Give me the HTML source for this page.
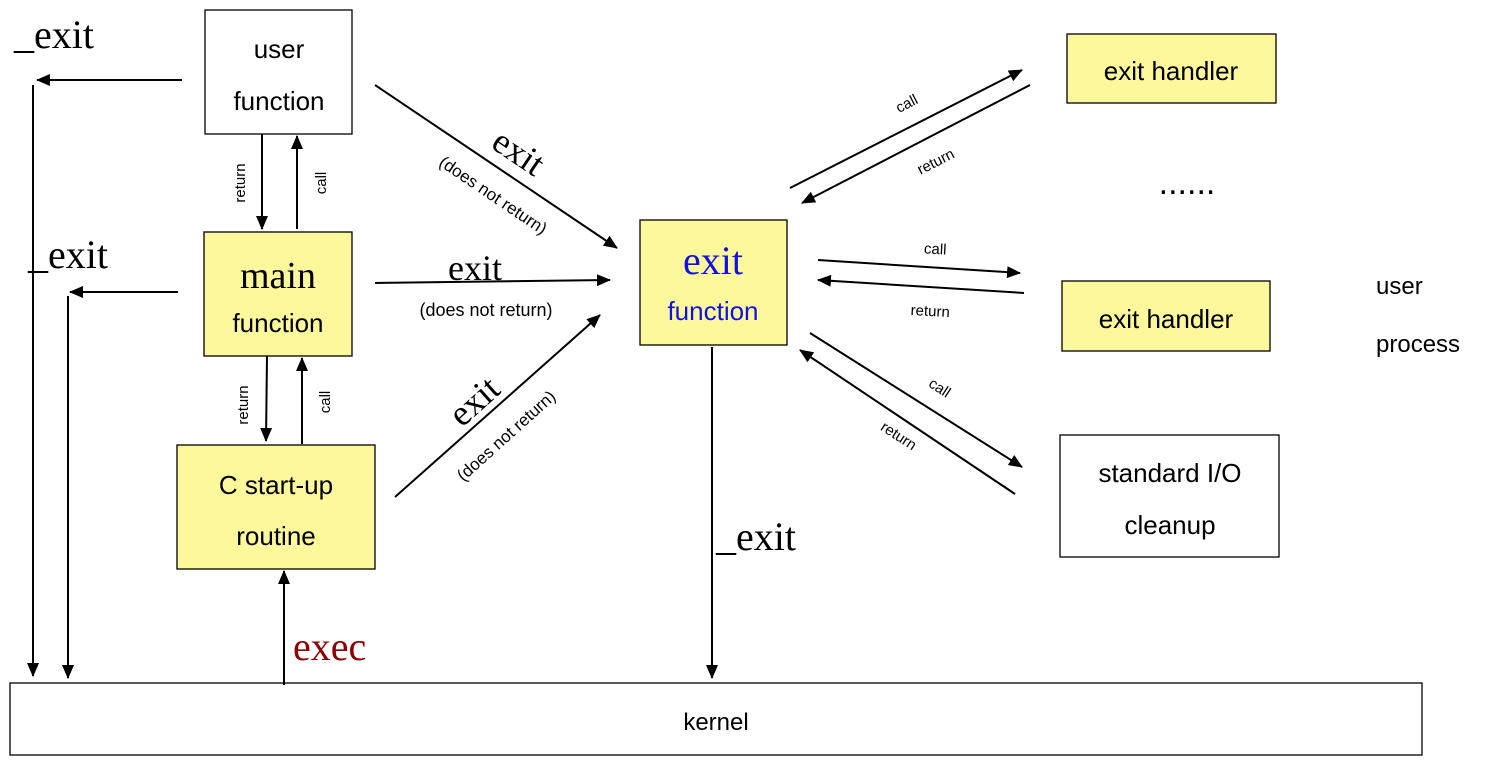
<!DOCTYPE html>
<html><head><meta charset="utf-8"><style>
html,body{margin:0;padding:0;background:#fff;}
svg{display:block;}
.h{font-family:"Liberation Sans","DejaVu Sans",sans-serif;fill:#000;}
.s{font-family:"Liberation Serif",serif;fill:#000;}
</style></head><body>
<svg width="1488" height="763" viewBox="0 0 1488 763" xmlns="http://www.w3.org/2000/svg">
<defs>
<marker id="a" markerWidth="10" markerHeight="10" refX="9" refY="5" orient="auto" markerUnits="userSpaceOnUse">
<path d="M0,0 L10,5 L0,10 z" fill="#000"/></marker>
<marker id="b" markerWidth="14" markerHeight="12" refX="13" refY="6" orient="auto" markerUnits="userSpaceOnUse">
<path d="M0,0 L14,6 L0,12 z" fill="#000"/></marker>
</defs>
<g stroke="#000" stroke-width="1.3">
<rect x="205" y="10" width="147" height="124" fill="#fff"/>
<rect x="204" y="232" width="148" height="124" fill="#fdf89c"/>
<rect x="177" y="445" width="198" height="124" fill="#fdf89c"/>
<rect x="640" y="220" width="147" height="125" fill="#fdf89c"/>
<rect x="1067" y="34" width="209" height="69" fill="#fdf89c"/>
<rect x="1062" y="281" width="208" height="70" fill="#fdf89c"/>
<rect x="1060" y="435" width="219" height="122" fill="#fff"/>
<rect x="10" y="683" width="1412" height="72" fill="#fff"/>
</g>
<g stroke="#000" stroke-width="2" fill="none">
<line x1="182" y1="80" x2="37" y2="80" marker-end="url(#b)"/>
<line x1="33" y1="85" x2="33" y2="676" marker-end="url(#b)"/>
<line x1="178" y1="292" x2="70" y2="292" marker-end="url(#b)"/>
<line x1="68" y1="296" x2="68" y2="678" marker-end="url(#b)"/>
<line x1="262" y1="134" x2="262" y2="229" marker-end="url(#b)"/>
<line x1="297" y1="229" x2="297" y2="136" marker-end="url(#b)"/>
<line x1="267" y1="356" x2="266" y2="441" marker-end="url(#b)"/>
<line x1="302" y1="444" x2="302" y2="358" marker-end="url(#b)"/>
<line x1="284" y1="685" x2="284" y2="571" marker-end="url(#b)"/>
<line x1="375" y1="85" x2="617" y2="248" marker-end="url(#b)"/>
<line x1="375" y1="283" x2="610" y2="280" marker-end="url(#b)"/>
<line x1="395" y1="497" x2="600" y2="315" marker-end="url(#b)"/>
<line x1="712" y1="347" x2="712" y2="678" marker-end="url(#b)"/>
<line x1="790" y1="188" x2="1022" y2="70" marker-end="url(#b)"/>
<line x1="1030" y1="85" x2="802" y2="203" marker-end="url(#b)"/>
<line x1="818" y1="260" x2="1020" y2="273" marker-end="url(#b)"/>
<line x1="1024" y1="293" x2="818" y2="280" marker-end="url(#b)"/>
<line x1="810" y1="333" x2="1022" y2="467" marker-end="url(#b)"/>
<line x1="1015" y1="494" x2="800" y2="350" marker-end="url(#b)"/>
</g>
<g class="h" text-anchor="middle">
<text x="279" y="58" font-size="26">user</text>
<text x="279" y="110" font-size="26">function</text>
<text x="278" y="288" font-size="38" class="s">main</text>
<text x="278" y="332" font-size="26">function</text>
<text x="276" y="494" font-size="26">C start-up</text>
<text x="276" y="545" font-size="26">routine</text>
<text x="713" y="274" font-size="40" class="s" style="fill:#1010e0">exit</text>
<text x="713" y="320" font-size="26" style="fill:#1010e0">function</text>
<text x="1171" y="80" font-size="26">exit handler</text>
<text x="1166" y="328" font-size="26">exit handler</text>
<text x="1170" y="482" font-size="26">standard I/O</text>
<text x="1170" y="534" font-size="26">cleanup</text>
<text x="716" y="730" font-size="24">kernel</text>
<text x="1187" y="194" font-size="34">......</text>
</g>
<g class="h" font-size="24">
<text x="1376" y="294">user</text>
<text x="1376" y="352">process</text>
</g>
<g class="s" font-size="40">
<text x="14" y="48">_exit</text>
<text x="28" y="268">_exit</text>
<text x="716" y="550">_exit</text>
<text x="293" y="660" style="fill:#8b0000">exec</text>
<text x="448" y="280" font-size="36">exit</text>
</g>
<text class="h" x="486" y="316" font-size="18" text-anchor="middle">(does not return)</text>
<g class="h" font-size="15" text-anchor="middle">
<text transform="translate(245,183) rotate(-90)">return</text>
<text transform="translate(326,183) rotate(-90)">call</text>
<text transform="translate(248,405) rotate(-90)">return</text>
<text transform="translate(330,402) rotate(-90)">call</text>
<text transform="translate(909,108) rotate(-27)">call</text>
<text transform="translate(938,166) rotate(-27)">return</text>
<text x="935" y="254" transform="rotate(3 935 254)">call</text>
<text x="930" y="316" transform="rotate(3 930 316)">return</text>
<text transform="translate(937,392) rotate(33)">call</text>
<text transform="translate(896,440) rotate(33)">return</text>
</g>
<g>
<text class="s" font-size="36" transform="translate(512,162) rotate(34)" text-anchor="middle">exit</text>
<text class="h" font-size="17" transform="translate(490,200) rotate(34)" text-anchor="middle">(does not return)</text>
<text class="s" font-size="36" transform="translate(482,410) rotate(-42)" text-anchor="middle">exit</text>
<text class="h" font-size="17" transform="translate(510,440) rotate(-42)" text-anchor="middle">(does not return)</text>
</g>
</svg>
</body></html>
